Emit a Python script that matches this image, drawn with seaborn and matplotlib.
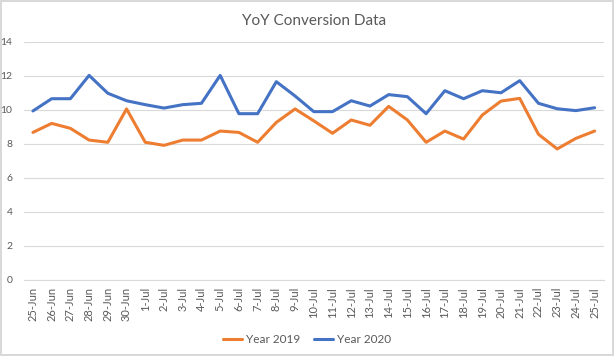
import numpy as np
import pandas as pd
import matplotlib
matplotlib.use('Agg')
import matplotlib.pyplot as plt
import seaborn as sns

# Data
dates = ['25-Jun', '26-Jun', '27-Jun', '28-Jun', '29-Jun', '30-Jun',
         '1-Jul', '2-Jul', '3-Jul', '4-Jul', '5-Jul', '6-Jul', '7-Jul', '8-Jul',
         '9-Jul', '10-Jul', '11-Jul', '12-Jul', '13-Jul', '14-Jul', '15-Jul',
         '16-Jul', '17-Jul', '18-Jul', '19-Jul', '20-Jul', '21-Jul', '22-Jul',
         '23-Jul', '24-Jul', '25-Jul']
year_2019 = [8.67, 9.20, 8.91, 8.22, 8.09, 10.05, 8.09, 7.91, 8.22, 8.22,
             8.75, 8.67, 8.09, 9.26, 10.05, 9.35, 8.62, 9.40, 9.09, 10.20,
             9.40, 8.09, 8.75, 8.28, 9.69, 10.51, 10.67, 8.56, 7.70, 8.32, 8.75]
year_2020 = [9.93, 10.65, 10.65, 12.02, 10.97, 10.53, 10.30, 10.10, 10.30, 10.38,
             12.02, 9.77, 9.77, 11.65, 10.81, 9.89, 9.89, 10.53, 10.22, 10.89,
             10.77, 9.77, 11.12, 10.65, 11.12, 11.00, 11.71, 10.38, 10.06, 9.95, 10.12]
series_names = ['Year 2019', 'Year 2020']
series_colors = ['#ED7D31', '#4472C4']
y_ticks = [0, 2, 4, 6, 8, 10, 12, 14]

df = pd.DataFrame({'date': dates * 2,
                   'value': year_2019 + year_2020,
                   'series': [series_names[0]] * len(dates) + [series_names[1]] * len(dates)})

sns.set_style('white')
plt.rcParams['font.family'] = ['Lato', 'DejaVu Sans']

fig = plt.figure(figsize=(6.14, 3.56), dpi=100)
ax = fig.add_axes([0.0384, 0.2135, 0.9453, 0.6694])

sns.lineplot(data=df, x='date', y='value', hue='series', sort=False,
             palette=dict(zip(series_names, series_colors)), linewidth=2.2, ax=ax)

n = len(dates)
ax.set_xlim(-0.5, n - 0.5)
ax.set_ylim(0, 14)
ax.set_yticks(y_ticks)
ax.set_yticklabels([str(t) for t in y_ticks], fontsize=7.5, color='#595959')
ax.set_xticks(range(n))
ax.set_xticklabels(dates, rotation=90, fontsize=8, color='#595959')
ax.set_xticks(np.arange(-0.5, n, 1), minor=True)
ax.tick_params(axis='x', which='major', length=0, pad=5)
ax.tick_params(axis='x', which='minor', length=4, color='#D9D9D9', width=0.8)
ax.tick_params(axis='y', length=0, pad=8)
ax.grid(axis='y', color='#D9D9D9', linewidth=0.8)
ax.set_axisbelow(True)
for s in ['left', 'right', 'top']:
    ax.spines[s].set_visible(False)
ax.spines['bottom'].set_color('#D9D9D9')
ax.set_xlabel('')
ax.set_ylabel('')

ax.set_title('YoY Conversion Data', fontsize=11, color='#595959', pad=12)

handles, labels = ax.get_legend_handles_labels()
ax.legend(handles, labels, loc='lower center', bbox_to_anchor=(0.5, -0.27 - 0.05),
          bbox_transform=ax.transAxes, ncol=2, frameon=False, fontsize=8.5,
          handlelength=1.6, columnspacing=1.2, handletextpad=0.3,
          labelcolor='#595959')
leg = ax.get_legend()
leg.set_bbox_to_anchor((0.5, -0.0), transform=fig.transFigure)

fig.patch.set_edgecolor('#D9D9D9')
fig.patch.set_linewidth(1.5)

plt.savefig('out.png', dpi=100, edgecolor=fig.get_edgecolor())
